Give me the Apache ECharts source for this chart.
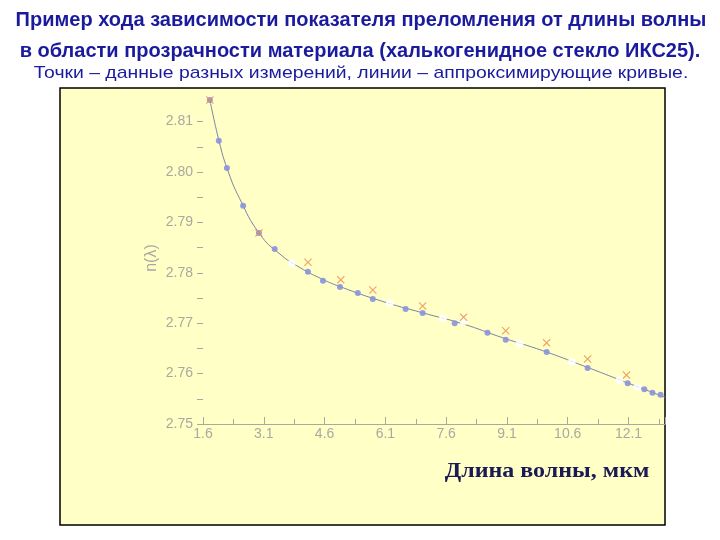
<!DOCTYPE html>
<html>
<head>
<meta charset="utf-8">
<script src="https://cdn.jsdelivr.net/npm/echarts@6/dist/echarts.min.js"></script>
<style>
  html, body { margin: 0; padding: 0; background: #fff; }
  #chart { width: 720px; height: 540px; }
</style>
</head>
<body>
<div id="chart"></div>
<script>
// подписи осей
var xTicks = [1.6, 3.1, 4.6, 6.1, 7.6, 9.1, 10.6, 12.1];
var yTicks = [2.75, 2.76, 2.77, 2.78, 2.79, 2.80, 2.81];

// измерения 1 (синие точки): [λ, n]
var seriesBlue = [
    [1.77, 2.8143], [1.99, 2.8062], [2.19, 2.8008], [2.59, 2.7933], [2.98, 2.7879],
    [3.37, 2.7847], [4.19, 2.7802], [4.56, 2.7784], [4.98, 2.7772], [5.42, 2.7760],
    [5.79, 2.7748], [6.60, 2.7728], [7.02, 2.7720], [7.81, 2.7700], [8.62, 2.7681],
    [9.07, 2.7667], [10.08, 2.7643], [11.09, 2.7611], [12.08, 2.7581], [12.49, 2.7569],
    [12.69, 2.7562], [12.89, 2.7558]
];
// измерения 2 (светлые кружки)
var seriesHollow = [
    [3.79, 2.7819], [6.21, 2.7740], [7.52, 2.7710], [8.03, 2.7704], [9.41, 2.7659],
    [10.70, 2.7623], [11.88, 2.7587], [12.32, 2.7573]
];
// измерения 3 (оранжевые крестики)
var seriesCross = [
    [1.77, 2.8143], [2.98, 2.7879], [4.19, 2.7821], [5.00, 2.7786], [5.79, 2.7766],
    [7.02, 2.7734], [8.03, 2.7712], [9.07, 2.7685], [10.08, 2.7661], [11.09, 2.7629],
    [12.05, 2.7597]
];
// аппроксимирующая кривая
var fitCurve = [
    [1.77, 2.8143], [2.0, 2.8060], [2.2, 2.8006], [2.5, 2.7948], [3.0, 2.7877],
    [3.5, 2.7837], [4.0, 2.7810], [4.5, 2.7789], [5.0, 2.7772], [6.0, 2.7744],
    [7.0, 2.7721], [8.0, 2.7699], [9.0, 2.7671], [10.0, 2.7645], [11.0, 2.7615],
    [12.0, 2.7584], [13.0, 2.7553]
];

var xMin = 1.6, xMax = 13.0, xStep = 1.5;
var yMin = 2.75, yMax = 2.81, yStep = 0.01;

function inList(list, v) {
    for (var i = 0; i < list.length; i++) {
        if (Math.abs(list[i] - v) < 1e-6) return true;
    }
    return false;
}

var titleColor = '#1a1a9e';
var axisGray = '#a9a9a2';

var myChart = echarts.init(document.getElementById('chart'));

var option = {
    animation: false,
    backgroundColor: '#ffffff',
    graphic: [
        {
            type: 'rect',
            z: -1,
            shape: { x: 60, y: 88, width: 605, height: 437 },
            style: { fill: '#ffffc6', stroke: '#000000', lineWidth: 1.5 }
        },
        {
            type: 'text', x: 361, y: 20,
            style: {
                text: 'Пример хода зависимости показателя преломления от длины волны',
                font: 'bold 20px "Liberation Sans", Arial, sans-serif',
                fill: titleColor, align: 'center', verticalAlign: 'middle'
            }
        },
        {
            type: 'text', x: 360, y: 51,
            style: {
                text: 'в области прозрачности материала (халькогенидное стекло ИКС25).',
                font: 'bold 20px "Liberation Sans", Arial, sans-serif',
                fill: titleColor, align: 'center', verticalAlign: 'middle'
            }
        },
        {
            type: 'text', x: 361, y: 73, scaleX: 1.14,
            style: {
                text: 'Точки – данные разных измерений, линии – аппроксимирующие кривые.',
                font: '17px "Liberation Sans", Arial, sans-serif',
                fill: titleColor, align: 'center', verticalAlign: 'middle'
            }
        },
        {
            type: 'text', x: 547, y: 472, scaleX: 1.2,
            style: {
                text: 'Длина волны, мкм',
                font: 'bold 20px "Liberation Serif", "DejaVu Serif", serif',
                fill: '#1a1a55', align: 'center', verticalAlign: 'middle'
            }
        },
        {
            type: 'text', x: 152, y: 258, rotation: Math.PI / 2,
            style: {
                text: 'n(λ)',
                font: '16px "Liberation Sans", Arial, sans-serif',
                fill: axisGray, align: 'center', verticalAlign: 'middle'
            }
        }
    ],
    grid: {
        left: 203,
        right: 55,
        top: 121.6,
        bottom: 116
    },
    xAxis: {
        type: 'value',
        min: xMin,
        max: xMax,
        interval: xStep,
        axisLine: { show: true, lineStyle: { color: axisGray, width: 1 } },
        axisTick: { show: true, inside: true, length: 7, lineStyle: { color: axisGray } },
        minorTick: { show: true, splitNumber: 2, length: 5, lineStyle: { color: axisGray } },
        splitLine: { show: false },
        axisLabel: {
            color: axisGray,
            fontSize: 14,
            fontFamily: '"Liberation Sans", Arial, sans-serif',
            margin: 3,
            formatter: function (v) {
                return inList(xTicks, v) ? v.toFixed(1) : '';
            }
        }
    },
    yAxis: {
        type: 'value',
        min: yMin,
        max: yMax,
        interval: yStep,
        axisLine: { show: false },
        axisTick: { show: true, length: 6, lineStyle: { color: axisGray } },
        minorTick: { show: true, splitNumber: 2, length: 6, lineStyle: { color: axisGray } },
        splitLine: { show: false },
        axisLabel: {
            color: axisGray,
            fontSize: 14,
            fontFamily: '"Liberation Sans", Arial, sans-serif',
            margin: 10,
            formatter: function (v) {
                return inList(yTicks, v) ? v.toFixed(2) : '';
            }
        }
    },
    series: [
        {
            name: 'аппроксимация',
            type: 'line',
            data: fitCurve,
            smooth: true,
            showSymbol: false,
            clip: false,
            lineStyle: { color: '#7c84a6', width: 1 },
            z: 1
        },
        {
            name: 'измерения 2',
            type: 'scatter',
            data: seriesHollow,
            symbol: 'emptyCircle',
            symbolSize: 6,
            clip: false,
            itemStyle: { color: '#ffffff', borderColor: '#9ca2cc', borderWidth: 1 },
            z: 2
        },
        {
            name: 'измерения 1',
            type: 'scatter',
            data: seriesBlue,
            symbol: 'circle',
            symbolSize: 6,
            clip: false,
            itemStyle: { color: '#8a92dc', opacity: 0.9 },
            z: 3
        },
        {
            name: 'измерения 3',
            type: 'scatter',
            data: seriesCross,
            symbol: 'path://M0,1L1,0L5,4L9,0L10,1L6,5L10,9L9,10L5,6L1,10L0,9L4,5Z',
            symbolSize: 8,
            clip: false,
            itemStyle: { color: '#ef8a4e' },
            z: 4
        }
    ]
};

myChart.setOption(option);
</script>
</body>
</html>
